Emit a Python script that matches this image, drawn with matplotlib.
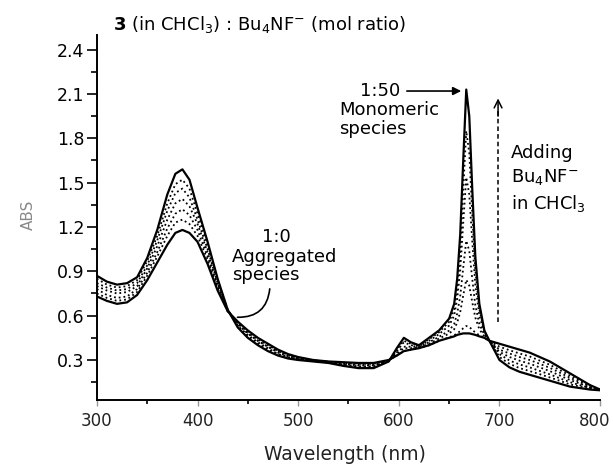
import matplotlib
matplotlib.use("Agg")
import matplotlib.pyplot as plt
import matplotlib.transforms as mtransforms
from matplotlib.ticker import MultipleLocator

# wavelength grid (nm)
wavelength = [300, 310, 320, 330, 340, 350, 360, 370, 378, 385, 392,
              400, 410, 420, 430, 440, 450, 460, 470, 480, 490, 500,
              515, 530, 545, 560, 575, 590,
              598, 605, 612, 620, 630, 640, 650,
              655, 658, 661, 664, 667, 670, 673, 676, 680, 685, 690,
              700, 710, 720, 730, 740, 750, 760, 770, 780, 790, 800]

# 1:0 (aggregated species)
abs_1_0 = [0.73, 0.70, 0.68, 0.69, 0.74, 0.84, 0.96, 1.08, 1.16, 1.18, 1.16,
           1.10, 0.95, 0.77, 0.63, 0.56, 0.50, 0.45, 0.41, 0.37, 0.34, 0.32,
           0.30, 0.29, 0.285, 0.28, 0.28, 0.30,
           0.33, 0.36, 0.37, 0.38, 0.40, 0.43, 0.45,
           0.46, 0.47, 0.475, 0.48, 0.48, 0.48, 0.475, 0.47, 0.46, 0.45, 0.43,
           0.41, 0.39, 0.37, 0.35, 0.32, 0.29, 0.25, 0.21, 0.17, 0.13, 0.10]

# intermediate additions of Bu4NF
abs_step1 = [0.75, 0.72, 0.70, 0.71, 0.76, 0.87, 1.00, 1.14, 1.23, 1.25, 1.22,
             1.14, 0.98, 0.78, 0.63, 0.55, 0.49, 0.44, 0.40, 0.36, 0.335, 0.317,
             0.298, 0.288, 0.281, 0.274, 0.274, 0.298,
             0.33, 0.36, 0.37, 0.38, 0.40, 0.43, 0.454,
             0.467, 0.481, 0.495, 0.515, 0.53, 0.524, 0.504, 0.486, 0.467, 0.45, 0.43,
             0.39, 0.366, 0.344, 0.324, 0.296, 0.268, 0.231, 0.195, 0.16, 0.125, 0.10]

abs_step2 = [0.78, 0.74, 0.72, 0.73, 0.78, 0.89, 1.03, 1.19, 1.29, 1.32, 1.28,
             1.18, 1.00, 0.80, 0.63, 0.55, 0.48, 0.43, 0.39, 0.36, 0.33, 0.313,
             0.297, 0.287, 0.277, 0.268, 0.268, 0.297,
             0.34, 0.38, 0.38, 0.384, 0.41, 0.445, 0.479,
             0.508, 0.554, 0.624, 0.737, 0.843, 0.803, 0.69, 0.587, 0.508, 0.46, 0.43,
             0.37, 0.344, 0.32, 0.30, 0.274, 0.247, 0.214, 0.18, 0.15, 0.12, 0.10]

abs_step3 = [0.80, 0.77, 0.75, 0.76, 0.80, 0.92, 1.07, 1.25, 1.36, 1.39, 1.34,
             1.22, 1.03, 0.81, 0.64, 0.54, 0.48, 0.43, 0.39, 0.35, 0.325, 0.31,
             0.295, 0.285, 0.273, 0.263, 0.263, 0.295,
             0.35, 0.39, 0.39, 0.388, 0.42, 0.457, 0.499,
             0.544, 0.614, 0.732, 0.925, 1.107, 1.039, 0.846, 0.671, 0.544, 0.47, 0.43,
             0.355, 0.32, 0.295, 0.275, 0.25, 0.225, 0.195, 0.165, 0.14, 0.115, 0.10]

abs_step4 = [0.82, 0.79, 0.77, 0.78, 0.82, 0.94, 1.11, 1.31, 1.43, 1.46, 1.40,
             1.25, 1.05, 0.82, 0.64, 0.53, 0.47, 0.42, 0.38, 0.34, 0.32, 0.307,
             0.293, 0.283, 0.268, 0.257, 0.257, 0.293,
             0.36, 0.42, 0.40, 0.393, 0.43, 0.475, 0.533,
             0.601, 0.713, 0.907, 1.229, 1.536, 1.421, 1.099, 0.809, 0.601, 0.48, 0.43,
             0.34, 0.296, 0.27, 0.25, 0.226, 0.203, 0.176, 0.15, 0.13, 0.11, 0.10]

abs_step5 = [0.85, 0.81, 0.79, 0.80, 0.84, 0.97, 1.14, 1.36, 1.49, 1.52, 1.46,
             1.29, 1.08, 0.84, 0.64, 0.53, 0.46, 0.41, 0.37, 0.34, 0.315, 0.303,
             0.292, 0.282, 0.264, 0.251, 0.251, 0.292,
             0.37, 0.43, 0.41, 0.397, 0.44, 0.488, 0.558,
             0.643, 0.785, 1.035, 1.451, 1.85, 1.70, 1.284, 0.91, 0.643, 0.49, 0.43,
             0.32, 0.274, 0.245, 0.225, 0.204, 0.182, 0.159, 0.135, 0.12, 0.105, 0.10]

# 1:50 (monomeric species)
abs_1_50 = [0.87, 0.83, 0.81, 0.82, 0.86, 0.99, 1.18, 1.42, 1.56, 1.59, 1.52,
            1.33, 1.10, 0.85, 0.64, 0.52, 0.45, 0.40, 0.36, 0.33, 0.31, 0.30,
            0.29, 0.28, 0.26, 0.245, 0.245, 0.29,
            0.38, 0.45, 0.42, 0.40, 0.45, 0.50, 0.58,
            0.68, 0.85, 1.15, 1.65, 2.13, 1.95, 1.45, 1.00, 0.68, 0.50, 0.43,
            0.30, 0.25, 0.22, 0.20, 0.18, 0.16, 0.14, 0.12, 0.11, 0.10, 0.095]

y_ticks = [0.3, 0.6, 0.9, 1.2, 1.5, 1.8, 2.1, 2.4]
x_ticks = [300, 400, 500, 600, 700, 800]

fig = plt.figure(figsize=(6.13, 4.65), dpi=100)
ax = fig.add_axes([0.158, 0.140, 0.821, 0.785])

ax.plot(wavelength, abs_1_0, color="black", lw=1.6, ls="-")
for series in [abs_step1, abs_step2, abs_step3, abs_step4, abs_step5]:
    ax.plot(wavelength, series, color="black", lw=1.3, ls=":")
ax.plot(wavelength, abs_1_50, color="black", lw=1.6, ls="-")

ax.set_xlim(300, 800)
ax.set_ylim(0.03, 2.5)
ax.set_xticks(x_ticks)
ax.set_yticks(y_ticks)
ax.xaxis.set_minor_locator(MultipleLocator(50))
ax.yaxis.set_minor_locator(MultipleLocator(0.15))
ax.tick_params(axis="y", which="major", direction="out", length=7, width=1.2,
               labelsize=12.5, pad=2)
ax.tick_params(axis="y", which="minor", direction="out", length=4, width=1.2)
ax.tick_params(axis="x", which="major", direction="out", length=4, width=1.0,
               labelsize=12, pad=5, labelcolor="#222222", color="#999999")
ax.tick_params(axis="x", which="minor", direction="out", length=3, width=1.2)
for side in ["top", "right"]:
    ax.spines[side].set_visible(False)
for side in ["left", "bottom"]:
    ax.spines[side].set_linewidth(1.4)

# nudge the last x label so it stays inside the figure
fig.canvas.draw()
last = ax.get_xticklabels()[-1]
last.set_transform(last.get_transform() +
                   mtransforms.ScaledTranslation(-4 / 72, 0, fig.dpi_scale_trans))

fig.text(0.563, 0.022, "Wavelength (nm)",
         ha="center", va="center", fontsize=13.5, color="#222222")
fig.text(0.046, 0.538, "ABS", rotation=90, ha="center", va="center",
         fontsize=11, color="#888888")
fig.text(0.184, 0.948, r"$\mathbf{3}$ (in CHCl$_3$) : Bu$_4$NF$^{-}$ (mol ratio)",
         ha="left", va="center", fontsize=13)

# aggregated label
ax.text(478, 1.13, "1:0", ha="center", va="center", fontsize=13)
ax.text(434, 1.00, "Aggregated", ha="left", va="center", fontsize=13)
ax.text(434, 0.875, "species", ha="left", va="center", fontsize=13)
ax.annotate("", xy=(437, 0.59), xytext=(472, 0.80),
            arrowprops=dict(arrowstyle="-", color="black", lw=1.2,
                            connectionstyle="arc3,rad=-0.5"))

# monomeric label
ax.text(581, 2.12, "1:50", ha="center", va="center", fontsize=13)
ax.text(541, 1.99, "Monomeric", ha="left", va="center", fontsize=13)
ax.text(541, 1.86, "species", ha="left", va="center", fontsize=13)
ax.annotate("", xy=(662, 2.12), xytext=(608, 2.12),
            arrowprops=dict(arrowstyle="-|>", color="black", lw=1.2,
                            mutation_scale=12, shrinkA=0, shrinkB=0))

# titration direction arrow
ax.plot([698.6, 698.6], [0.556, 2.0], color="black", lw=1.1, ls=(0, (3, 2)))
ax.annotate("", xy=(698.6, 2.07), xytext=(698.6, 1.95),
            arrowprops=dict(arrowstyle="->", color="black", lw=1.1,
                            mutation_scale=14, shrinkA=0, shrinkB=0))
ax.text(711.5, 1.70, "Adding", ha="left", va="center", fontsize=13)
ax.text(711.5, 1.54, r"Bu$_4$NF$^{-}$", ha="left", va="center", fontsize=13)
ax.text(711.5, 1.36, r"in CHCl$_3$", ha="left", va="center", fontsize=13)

fig.savefig("out.png", dpi=100)
